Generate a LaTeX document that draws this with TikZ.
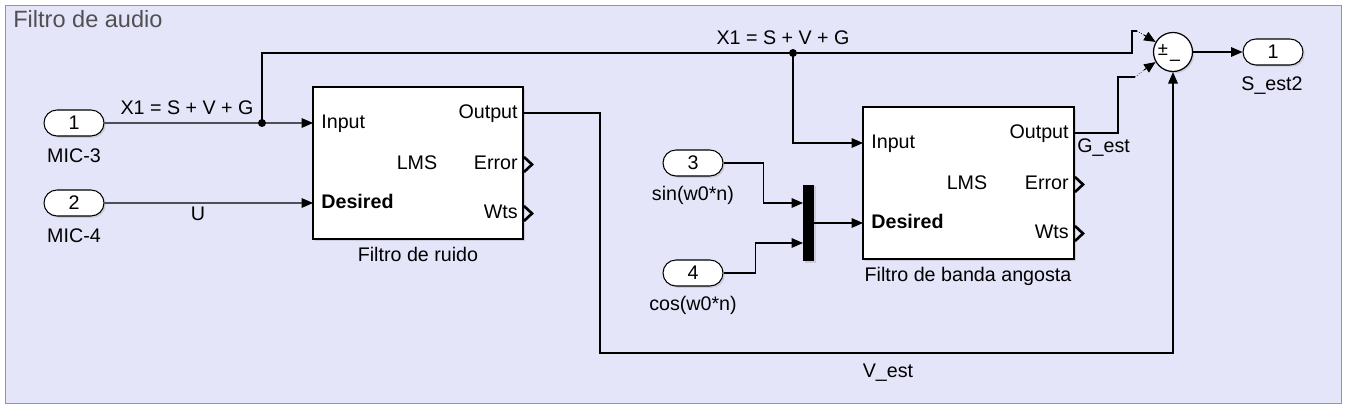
\documentclass[tikz,border=0pt]{standalone}
\usepackage{fontspec}
\setmainfont{Liberation Sans}
\usepackage{tikz}
\usetikzlibrary{arrows.meta,shapes.misc,shadows}

\begin{document}
\begin{tikzpicture}[x=0.02cm, y=-0.02cm, % one unit = one pixel, y downwards
        font=\fontsize{11.2}{13}\selectfont,
        sig/.style={line width=0.6pt},
        arr/.style={sig, -{Triangle[length=6.5pt, width=5.5pt]}},
        shade/.style={drop shadow={opacity=0.25, shadow xshift=1pt, shadow yshift=-1pt}},
        port/.style={rounded rectangle, draw, fill=white, line width=0.6pt, minimum width=1.2cm, minimum height=0.52cm, inner sep=0pt, shade},
        lms/.style={draw, fill=white, line width=0.7pt, minimum width=4.2cm, minimum height=3.04cm, inner sep=0pt, shade},
        sumc/.style={circle, draw, fill=white, line width=0.7pt, minimum size=0.78cm, inner sep=0pt, shade},
        lbl/.style={inner sep=0pt},
        dot/.style={circle, fill, inner sep=0pt, minimum size=0.16cm},
        chev/.style={line width=1.5pt, line join=miter}]

        % Colour definitions
        \definecolor{lavender}{RGB}{229,229,250}
        \definecolor{framegray}{RGB}{150,150,150}
        \definecolor{titlegray}{RGB}{80,80,80}

        \useasboundingbox (0,0) rectangle (1347,408);

        % === Subsystem frame ===
        \draw[framegray, fill=lavender] (5,5) rectangle (1341,403);
        \node[lbl, anchor=base west, titlegray, font=\fontsize{13.4}{16}\selectfont] (title) at (13,28) {Filtro de audio};

        % === Inports ===
        \node[port] (in1) at (74,123) {1};
        \node[lbl, anchor=base] (in1lbl) at (74,163) {MIC-3};
        \node[port] (in2) at (74,203) {2};
        \node[lbl, anchor=base] (in2lbl) at (74,243) {MIC-4};
        \node[port] (in3) at (693,163) {3};
        \node[lbl, anchor=base] (in3lbl) at (693,201) {sin(w0*n)};
        \node[port] (in4) at (693,273) {4};
        \node[lbl, anchor=base] (in4lbl) at (693,311) {cos(w0*n)};

        % === LMS block A: Filtro de ruido ===
        \begin{scope}[shift={(0,0)}]
            \node[lms] (f1) at (418,163) {};
            \coordinate (f1in) at (313,123);
            \coordinate (f1d) at (313,203);
            \coordinate (f1out) at (523,113);
            \node[lbl, anchor=base west] (f1inlbl) at (321,129) {Input};
            \node[lbl, anchor=base west, font=\fontsize{11.2}{13}\selectfont\bfseries] (f1dlbl) at (321,209) {Desired};
            \node[lbl, anchor=base east] (f1outlbl) at (518,119) {Output};
            \node[lbl, anchor=base east] (f1errlbl) at (518,170) {Error};
            \node[lbl, anchor=base east] (f1wtslbl) at (518,219) {Wts};
            \node[lbl, anchor=base] (f1name) at (417,170) {LMS};
            % open output ports
            \draw[chev] (524,157) -- (532,164.5) -- (524,172);
            \draw[chev] (524,206) -- (532,213.5) -- (524,221);
            \node[lbl, anchor=base] (f1cap) at (418,262) {Filtro de ruido};
        \end{scope}

        % === LMS block B: Filtro de banda angosta ===
        \begin{scope}[shift={(550,20)}]
            \node[lms, minimum width=4.22cm] (f2) at (418.5,163) {};
            \coordinate (f2in) at (313,123);
            \coordinate (f2d) at (313,203);
            \coordinate (f2out) at (524,113);
            \node[lbl, anchor=base west] (f2inlbl) at (321,129) {Input};
            \node[lbl, anchor=base west, font=\fontsize{11.2}{13}\selectfont\bfseries] (f2dlbl) at (321,209) {Desired};
            \node[lbl, anchor=base east] (f2outlbl) at (519,119) {Output};
            \node[lbl, anchor=base east] (f2errlbl) at (519,170) {Error};
            \node[lbl, anchor=base east] (f2wtslbl) at (519,219) {Wts};
            \node[lbl, anchor=base] (f2name) at (417,170) {LMS};
            % open output ports
            \draw[chev] (525,157) -- (533,164.5) -- (525,172);
            \draw[chev] (525,206) -- (533,213.5) -- (525,221);
            \node[lbl, anchor=base] (f2cap) at (418,262) {Filtro de banda angosta};
        \end{scope}

        % === Mux, sum and outport ===
        \node[fill=black, minimum width=0.22cm, minimum height=1.54cm, inner sep=0pt, shade] (mux) at (808.5,223) {};
        \coordinate (mx1) at (803,203);
        \coordinate (mx2) at (803,243);
        \node[sumc] (s) at (1173,52) {};
        \node[lbl, font=\fontsize{10.5}{12}\selectfont] (spm) at (1163,50) {±};
        \node[lbl, font=\fontsize{10.5}{12}\selectfont] (sminus) at (1175,63) {--};
        \node[port] (out1) at (1273,52) {1};
        \node[lbl, anchor=base] (out1lbl) at (1272,91) {S\_est2};

        % === Signals ===
        \coordinate (j1) at (262,123);
        \coordinate (j2) at (793,53);
        \draw[arr] (in1) -- (f1in);
        \node[lbl, anchor=base] (x1lbl) at (187,115) {X1 = S + V + G};
        \draw[arr] (in2) -- (f1d);
        \node[lbl, anchor=base] (ulbl) at (198,221) {U};

        % X1 branch to the sum and to block B
        \coordinate (s1a) at (1132,31);
        \coordinate (s1b) at (1137,31);
        \coordinate (s1c) at (1144,35);
        \draw[sig] (j1) |- (j2) -| (s1a) -- (s1b);
        \draw[line width=0.4pt, densely dotted] (s1b) -- (s1c);
        \draw[arr] (s1c) -- (s.150);
        \draw[arr] (j2) |- (f2in);
        \node[lbl, anchor=base] (x1lbl2) at (783,45) {X1 = S + V + G};
        \node[dot] (j1dot) at (j1) {};
        \node[dot] (j2dot) at (j2) {};

        % sine and cosine into the mux
        \draw[arr] (in3.east) -- ++(40,0) |- (mx1);
        \draw[arr] (in4.east) -- ++(32,0) |- (mx2);
        \draw[arr] (mux.east) -- (f2d);

        % G_est into the sum
        \coordinate (s2a) at (1135,77);
        \coordinate (s2b) at (1144,70);
        \draw[sig] (f2out) -- ++(44,0) |- (s2a);
        \draw[line width=0.4pt, densely dotted] (s2a) -- (s2b);
        \draw[arr] (s2b) -- (s.210);
        \node[lbl, anchor=base west] (gestlbl) at (1077,153) {G\_est};

        % V_est into the sum
        \coordinate (vb) at (600,353);
        \draw[arr] (f1out) -| (vb) -| (s.south);
        \node[lbl, anchor=base] (vestlbl) at (888,378) {V\_est};

        % output
        \draw[arr] (s) -- (out1);

    \end{tikzpicture}
\end{document}
